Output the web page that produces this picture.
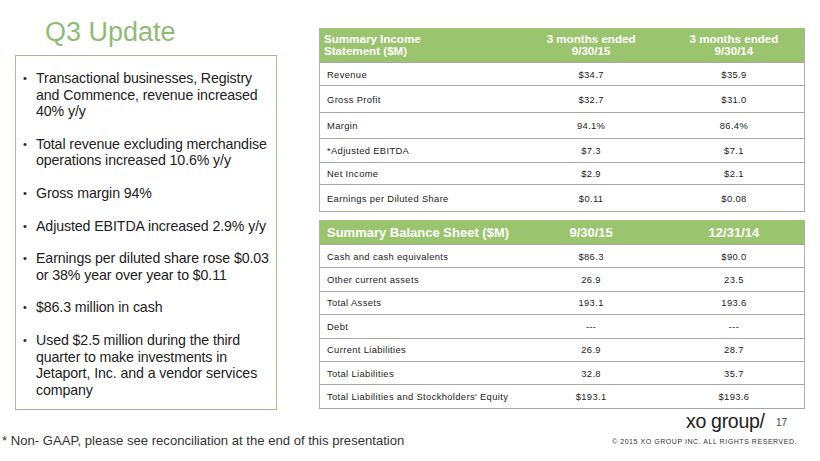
<!DOCTYPE html>
<html>
<head>
<meta charset="utf-8">
<script src="https://cdn.jsdelivr.net/npm/chart.js@4.4.0/dist/chart.umd.min.js"></script>
<style>
  html,body{margin:0;padding:0;background:#fff;}
  body{width:820px;height:461px;position:relative;overflow:hidden;font-family:"Liberation Sans",Arial,sans-serif;color:#222;}
  #title{position:absolute;left:45px;top:17px;font-size:27px;color:#8fbc75;}
  #box{position:absolute;left:15px;top:55px;width:262px;height:355px;border:1px solid #9fc085;box-sizing:border-box;}
  #bullets{list-style:none;margin:0;padding:0;position:absolute;left:7px;top:14px;width:248px;}
  #bullets li{position:relative;padding-left:13px;font-size:14.2px;line-height:16.5px;margin-bottom:16.2px;letter-spacing:-0.1px;}
  #bullets li:before{content:"•";position:absolute;left:0;top:0;font-size:11px;}
  table{position:absolute;left:319px;width:486px;border-collapse:collapse;font-size:9.4px;letter-spacing:0.35px;}
  table td,table th{padding:0 0 0 7px;border-bottom:1px solid #a8a8a8;}
  table th{background:#9bc46e;color:#fff;font-weight:bold;text-align:left;letter-spacing:0;}
  table th.c,table td.c{text-align:center;padding-left:0;}
  table tr td:first-child,table tr th:first-child{border-left:1px solid #b0b0b0;}
  table tr td:last-child,table tr th:last-child{border-right:1px solid #b0b0b0;}
  #t1{top:28px;}
  #t1 th{height:34px;font-size:11.6px;line-height:11.6px;}
  #t1 th:first-child{padding-left:4px;}
  #t1 td{height:24px;}
  #t1 tr:nth-child(2) td{height:22px;}
  #t1 tr:nth-child(3) td{height:26px;}
  #t1 tr:nth-child(4) td{height:25px;}
  #t1 tr:nth-child(5) td{height:23px;}
  #t1 tr:nth-child(6) td{height:21px;}
  #t1 tr:nth-child(7) td{height:26px;}
  #t2{top:220px;}
  #t2 th{height:24px;font-size:13px;}
  #t2 td{height:22.4px;}
  #note{position:absolute;left:2px;top:433px;font-size:13.1px;color:#333;}
  #logo{position:absolute;left:686px;top:410px;font-size:19.5px;color:#222;letter-spacing:-0.3px;}
  #pg{position:absolute;left:776px;top:417px;font-size:10px;color:#444;}
  #copy{position:absolute;left:612px;top:438px;font-size:7px;color:#333;letter-spacing:0.55px;}
</style>
</head>
<body>
<div id="title">Q3 Update</div>
<div id="box"><ul id="bullets"></ul></div>
<table id="t1"></table>
<table id="t2"></table>
<div id="note">* Non- GAAP, please see reconciliation at the end of this presentation</div>
<div id="logo">xo group/</div>
<div id="pg">17</div>
<div id="copy">© 2015 XO GROUP INC. ALL RIGHTS RESERVED.</div>
<script>
const bullets = [
  "Transactional businesses, Registry and Commence, revenue increased 40% y/y",
  "Total revenue excluding merchandise operations increased 10.6% y/y",
  "Gross margin 94%",
  "Adjusted EBITDA  increased 2.9% y/y",
  "Earnings per diluted share rose $0.03 or 38% year over year to $0.11",
  "$86.3 million in cash",
  "Used $2.5 million during the third quarter to make investments in Jetaport, Inc. and a vendor services company"
];
const incomeHeaders = ["Summary Income<br>Statement ($M)", "3 months ended<br>9/30/15", "3 months ended<br>9/30/14"];
const incomeLabels = ["Revenue","Gross Profit","Margin","*Adjusted EBITDA","Net Income","Earnings per Diluted Share"];
const income2015 = ["$34.7","$32.7","94.1%","$7.3","$2.9","$0.11"];
const income2014 = ["$35.9","$31.0","86.4%","$7.1","$2.1","$0.08"];
const balanceHeaders = ["Summary Balance Sheet ($M)","9/30/15","12/31/14"];
const balanceLabels = ["Cash and cash equivalents","Other current assets","Total Assets","Debt","Current Liabilities","Total Liabilities","Total Liabilities and Stockholders' Equity"];
const balance2015 = ["$86.3","26.9","193.1","---","26.9","32.8","$193.1"];
const balance2014 = ["$90.0","23.5","193.6","---","28.7","35.7","$193.6"];

const ul = document.getElementById('bullets');
bullets.forEach(b => { const li = document.createElement('li'); li.textContent = b; ul.appendChild(li); });

function build(id, headers, labels, a, b){
  const t = document.getElementById(id);
  let h = '<tr><th style="width:41%">'+headers[0]+'</th><th class="c" style="width:30%">'+headers[1]+'</th><th class="c">'+headers[2]+'</th></tr>';
  labels.forEach((l,i)=>{ h += '<tr><td>'+l+'</td><td class="c">'+a[i]+'</td><td class="c">'+b[i]+'</td></tr>'; });
  t.innerHTML = h;
}
build('t1', incomeHeaders, incomeLabels, income2015, income2014);
build('t2', balanceHeaders, balanceLabels, balance2015, balance2014);
</script>
</body>
</html>
